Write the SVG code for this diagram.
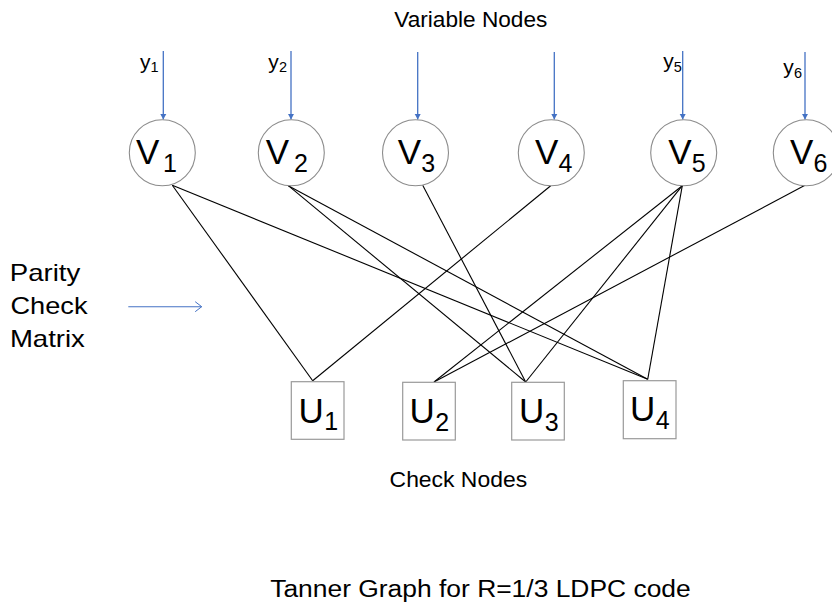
<svg xmlns="http://www.w3.org/2000/svg" width="832" height="607" viewBox="0 0 832 607">
  <style>
    text { font-family: "Liberation Sans", Arial, sans-serif; fill: #000; }
    .big { font-size: 35px; }
    .sub { font-size: 25px; }
    .ylab { font-size: 21px; }
    .ysub { font-size: 14.5px; }
    .cap { font-size: 21.5px; }
    .vnode circle { fill: #fff; stroke: #8c8c8c; stroke-width: 1.1; }
    .cnode rect { fill: #fff; stroke: #9a9a9a; stroke-width: 1.2; }
    .edge { stroke: #000; stroke-width: 1.1; fill: none; }
    .obs { stroke: #4472C4; stroke-width: 1.3; fill: none; marker-end: url(#tri); }
    .hint { stroke: #4472C4; stroke-width: 1.1; fill: none; marker-end: url(#open); }
  </style>
  <defs>
    <marker id="tri" markerUnits="userSpaceOnUse" markerWidth="8" markerHeight="8" refX="6" refY="3.2" orient="auto">
      <path d="M0,0 L6,3.2 L0,6.4 z" fill="#4472C4"/>
    </marker>
    <marker id="open" markerUnits="userSpaceOnUse" markerWidth="10" markerHeight="12" refX="7" refY="5.5" orient="auto">
      <path d="M0.5,0.5 L7,5.5 L0.5,10.5" fill="none" stroke="#4472C4" stroke-width="1"/>
    </marker>
  </defs>

  <rect width="832" height="607" fill="#fff"/>

  <!-- headings -->
  <text class="cap" x="394.3" y="26.7" textLength="153" lengthAdjust="spacingAndGlyphs">Variable Nodes</text>
  <text class="cap" x="389.6" y="486.5" font-size="22" textLength="137.5" lengthAdjust="spacingAndGlyphs">Check Nodes</text>
  <text x="270.2" y="597.3" font-size="23.5" textLength="420.5" lengthAdjust="spacingAndGlyphs">Tanner Graph for R=1/3 LDPC code</text>
  <g id="parity-label">
    <text x="9.8" y="280.7" font-size="24" textLength="70.5" lengthAdjust="spacingAndGlyphs">Parity</text>
    <text x="10.5" y="314" font-size="24" textLength="77" lengthAdjust="spacingAndGlyphs">Check</text>
    <text x="9.9" y="346.7" font-size="24" textLength="75" lengthAdjust="spacingAndGlyphs">Matrix</text>
  </g>

  <!-- connectors: channel inputs, parity arrow and graph edges -->
  <g id="connectors">
    <line class="obs" x1="163.3" y1="51" x2="163.3" y2="119.6"/>
    <line class="obs" x1="291" y1="51" x2="291" y2="119.6"/>
    <line class="obs" x1="417.7" y1="52" x2="417.7" y2="119.6"/>
    <line class="obs" x1="554.3" y1="52" x2="554.3" y2="119.6"/>
    <line class="obs" x1="682.7" y1="51" x2="682.7" y2="119.6"/>
    <line class="obs" x1="805" y1="52" x2="805" y2="119.6"/>

    <line class="hint" x1="128.3" y1="306.7" x2="201.7" y2="306.7"/>

    <line class="edge" x1="172.3" y1="185.2" x2="312.7" y2="380.7"/>
    <line class="edge" x1="172.3" y1="185.2" x2="647.7" y2="379.3"/>
    <line class="edge" x1="288.3" y1="185.7" x2="525.7" y2="382"/>
    <line class="edge" x1="288.3" y1="185.7" x2="647.7" y2="379.3"/>
    <line class="edge" x1="422.7" y1="185.2" x2="525.7" y2="382"/>
    <line class="edge" x1="550.7" y1="185.8" x2="312.7" y2="380.7"/>
    <line class="edge" x1="682.3" y1="185.7" x2="434" y2="382"/>
    <line class="edge" x1="682.3" y1="185.7" x2="525.7" y2="382"/>
    <line class="edge" x1="682.3" y1="185.7" x2="647.7" y2="379.3"/>
    <line class="edge" x1="805" y1="185.3" x2="434" y2="382"/>
  </g>

  <!-- channel observations -->
  <g id="inputs">
    <text class="ylab" x="140" y="69">y<tspan class="ysub" x="150.5" y="72.4">1</tspan></text>
    <text class="ylab" x="268.3" y="69">y<tspan class="ysub" x="279" y="72.4">2</tspan></text>
    <text class="ylab" x="663.3" y="67.5">y<tspan class="ysub" x="673.8" y="71.7">5</tspan></text>
    <text class="ylab" x="783.3" y="74">y<tspan class="ysub" x="794" y="78.3">6</tspan></text>
  </g>

  <!-- variable nodes -->
  <g id="V1" class="vnode">
    <circle cx="162.3" cy="152.8" r="33"/>
    <text class="big" x="136" y="164">V<tspan class="sub" x="163" y="171.7">1</tspan></text>
  </g>
  <g id="V2" class="vnode">
    <circle cx="291.3" cy="152.8" r="33"/>
    <text class="big" x="265.7" y="164">V<tspan class="sub" x="294" y="171.7">2</tspan></text>
  </g>
  <g id="V3" class="vnode">
    <circle cx="415.5" cy="152.8" r="33"/>
    <text class="big" x="397.7" y="164">V<tspan class="sub" x="421.3" y="171.7">3</tspan></text>
  </g>
  <g id="V4" class="vnode">
    <circle cx="551.3" cy="152.8" r="33"/>
    <text class="big" x="535" y="164">V<tspan class="sub" x="558.5" y="171.7">4</tspan></text>
  </g>
  <g id="V5" class="vnode">
    <circle cx="683.7" cy="152.8" r="33"/>
    <text class="big" x="668.3" y="164">V<tspan class="sub" x="691.8" y="171.7">5</tspan></text>
  </g>
  <g id="V6" class="vnode">
    <circle cx="806.3" cy="152.8" r="33"/>
    <text class="big" x="790" y="164">V<tspan class="sub" x="813.5" y="171.7">6</tspan></text>
  </g>

  <!-- check nodes -->
  <g id="U1" class="cnode">
    <rect x="291.3" y="381.7" width="52.7" height="57.6"/>
    <text class="big" x="298.4" y="422.7">U<tspan class="sub" x="324.3" y="430">1</tspan></text>
  </g>
  <g id="U2" class="cnode">
    <rect x="402.7" y="382.3" width="52.6" height="57.7"/>
    <text class="big" x="409.4" y="423">U<tspan class="sub" x="435.2" y="431">2</tspan></text>
  </g>
  <g id="U3" class="cnode">
    <rect x="511.7" y="382.3" width="52.6" height="57.7"/>
    <text class="big" x="519" y="423">U<tspan class="sub" x="544.8" y="431">3</tspan></text>
  </g>
  <g id="U4" class="cnode">
    <rect x="623.3" y="380.7" width="52.7" height="58"/>
    <text class="big" x="630" y="421">U<tspan class="sub" x="655.8" y="428.5">4</tspan></text>
  </g>
</svg>
